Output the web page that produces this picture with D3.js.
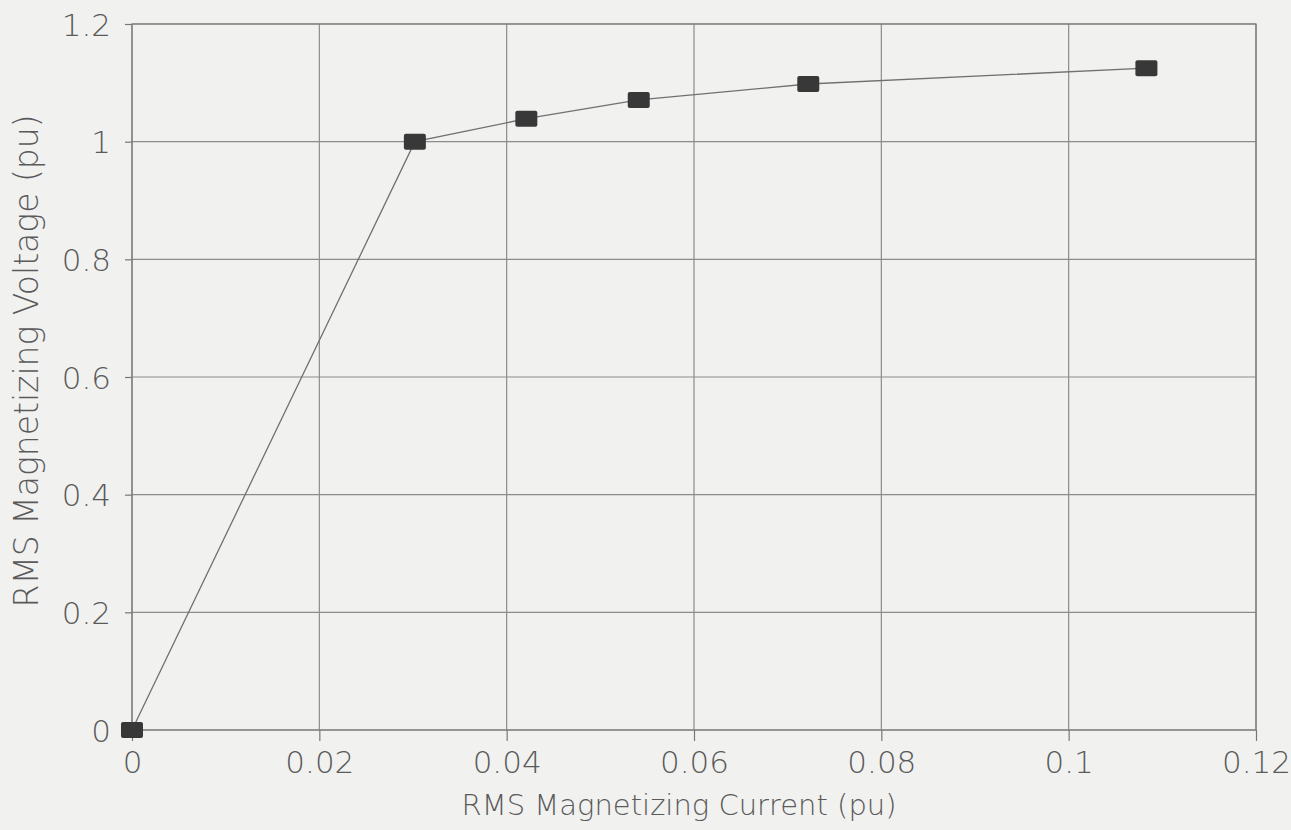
<!DOCTYPE html>
<html>
<head>
<meta charset="utf-8">
<script src="https://cdn.jsdelivr.net/npm/d3@7"></script>
<style>
  body { margin: 0; background: #f1f1f0; }
  svg { display: block; }
  text { font-family: "DejaVu Sans", sans-serif; fill: #5a5a5a; }
</style>
</head>
<body>
<svg></svg>
<script>
// magnetizing curve
var current = [0, 0.0302, 0.0421, 0.0541, 0.0722, 0.1083];
var voltage = [0, 1.0, 1.039, 1.071, 1.098, 1.125];

var xTicks = [0, 0.02, 0.04, 0.06, 0.08, 0.1, 0.12];
var yTicks = [0, 0.2, 0.4, 0.6, 0.8, 1, 1.2];
var xTickLabels = ["0", "0.02", "0.04", "0.06", "0.08", "0.1", "0.12"];
var yTickLabels = ["0", "0.2", "0.4", "0.6", "0.8", "1", "1.2"];

var xTitle = "RMS Magnetizing Current (pu)";
var yTitle = "RMS Magnetizing Voltage (pu)";

var width = 1291;
var height = 830;
// note: "top" is taken by window.top, so use a margin object
var m = { left: 132, right: 1256, top: 24, bottom: 730 };

var svg = d3.select("svg")
            .attr("width", width)
            .attr("height", height);

var xScale = d3.scaleLinear()
               .domain([0, 0.12])
               .range([m.left, m.right]);

var yScale = d3.scaleLinear()
               .domain([0, 1.2])
               .range([m.bottom, m.top]);

// grid
svg.append("g")
  .selectAll("line")
  .data(xTicks)
  .enter()
  .append("line")
  .attr("x1", function(d) { return xScale(d); })
  .attr("x2", function(d) { return xScale(d); })
  .attr("y1", m.top)
  .attr("y2", m.bottom)
  .attr("stroke", "#8c8c8c")
  .attr("stroke-width", 1.2);

svg.append("g")
  .selectAll("line")
  .data(yTicks)
  .enter()
  .append("line")
  .attr("x1", m.left)
  .attr("x2", m.right)
  .attr("y1", function(d) { return yScale(d); })
  .attr("y2", function(d) { return yScale(d); })
  .attr("stroke", "#8c8c8c")
  .attr("stroke-width", 1.2);

// axes
var xAxis = d3.axisBottom(xScale)
  .tickValues(xTicks)
  .tickSize(11)
  .tickPadding(10)
  .tickFormat(function(d, i) { return xTickLabels[i]; });

var yAxis = d3.axisLeft(yScale)
  .tickValues(yTicks)
  .tickSize(7)
  .tickPadding(14)
  .tickFormat(function(d, i) { return yTickLabels[i]; });

var gx = svg.append("g")
  .attr("transform", "translate(0," + m.bottom + ")")
  .call(xAxis);

var gy = svg.append("g")
  .attr("transform", "translate(" + m.left + ",0)")
  .call(yAxis);

[gx, gy].forEach(function(g) {
  g.select(".domain").remove();
  g.selectAll(".tick line").attr("stroke", "#777").attr("stroke-width", 1.2);
  g.selectAll(".tick text")
    .style("font-size", "31px")
    .style("font-weight", "200")
    .attr("fill", "#5a5a5a");
});
gy.selectAll(".tick text").attr("dy", "0.36em");

// frame
svg.append("rect")
  .attr("x", m.left)
  .attr("y", m.top)
  .attr("width", m.right - m.left)
  .attr("height", m.bottom - m.top)
  .attr("fill", "none")
  .attr("stroke", "#7a7a7a")
  .attr("stroke-width", 1.2);

// curve
var points = current.map(function(c, i) { return [c, voltage[i]]; });

var line = d3.line()
  .x(function(d) { return xScale(d[0]); })
  .y(function(d) { return yScale(d[1]); });

svg.append("path")
  .datum(points)
  .attr("d", line)
  .attr("fill", "none")
  .attr("stroke", "#707070")
  .attr("stroke-width", 1.3);

svg.selectAll("rect.marker")
  .data(points)
  .enter()
  .append("rect")
  .attr("class", "marker")
  .attr("x", function(d) { return xScale(d[0]) - 11; })
  .attr("y", function(d) { return yScale(d[1]) - 8; })
  .attr("width", 22)
  .attr("height", 16)
  .attr("rx", 2)
  .attr("fill", "#383838");

// titles
svg.append("text")
  .attr("x", 679)
  .attr("y", 815)
  .attr("text-anchor", "middle")
  .style("font-size", "29px")
  .style("font-weight", "200")
  .text(xTitle);

svg.append("text")
  .attr("transform", "translate(38,361) rotate(-90)")
  .attr("text-anchor", "middle")
  .style("font-size", "33px")
  .style("font-weight", "200")
  .text(yTitle);
</script>
</body>
</html>
